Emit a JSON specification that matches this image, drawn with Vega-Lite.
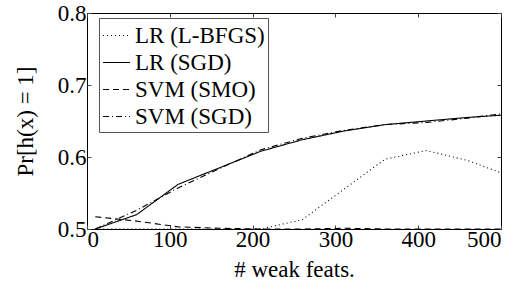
{
  "$schema": "https://vega.github.io/schema/vega-lite/v6.json",
  "autosize": {"type": "none"},
  "width": 414,
  "height": 216,
  "padding": {"left": 87, "top": 13, "right": 20, "bottom": 61},
  "background": "white",
  "config": {
    "view": {"stroke": "black", "strokeWidth": 1},
    "font": "Liberation Serif",
    "axis": {"grid": false, "domain": false, "tickColor": "#444", "tickSize": -4, "labelColor": "black", "labelFont": "Liberation Serif", "labelFontSize": 23, "titleFont": "Liberation Serif", "titleFontWeight": "normal", "titleColor": "black", "titleFontSize": 23},
    "legend": {"labelFont": "Liberation Serif"}
  },
  "data": {"values": [
    {"n": 10, "v": 0.5, "m": "LR (L-BFGS)"},
    {"n": 60, "v": 0.5, "m": "LR (L-BFGS)"},
    {"n": 110, "v": 0.5, "m": "LR (L-BFGS)"},
    {"n": 160, "v": 0.5, "m": "LR (L-BFGS)"},
    {"n": 210, "v": 0.5, "m": "LR (L-BFGS)"},
    {"n": 260, "v": 0.513, "m": "LR (L-BFGS)"},
    {"n": 310, "v": 0.555, "m": "LR (L-BFGS)"},
    {"n": 360, "v": 0.597, "m": "LR (L-BFGS)"},
    {"n": 410, "v": 0.609, "m": "LR (L-BFGS)"},
    {"n": 460, "v": 0.595, "m": "LR (L-BFGS)"},
    {"n": 500, "v": 0.578, "m": "LR (L-BFGS)"},
    {"n": 10, "v": 0.5, "m": "LR (SGD)"},
    {"n": 60, "v": 0.52, "m": "LR (SGD)"},
    {"n": 110, "v": 0.562, "m": "LR (SGD)"},
    {"n": 160, "v": 0.585, "m": "LR (SGD)"},
    {"n": 210, "v": 0.608, "m": "LR (SGD)"},
    {"n": 260, "v": 0.624, "m": "LR (SGD)"},
    {"n": 310, "v": 0.636, "m": "LR (SGD)"},
    {"n": 360, "v": 0.645, "m": "LR (SGD)"},
    {"n": 410, "v": 0.65, "m": "LR (SGD)"},
    {"n": 460, "v": 0.655, "m": "LR (SGD)"},
    {"n": 500, "v": 0.658, "m": "LR (SGD)"},
    {"n": 10, "v": 0.517, "m": "SVM (SMO)"},
    {"n": 60, "v": 0.511, "m": "SVM (SMO)"},
    {"n": 110, "v": 0.503, "m": "SVM (SMO)"},
    {"n": 160, "v": 0.501, "m": "SVM (SMO)"},
    {"n": 210, "v": 0.5, "m": "SVM (SMO)"},
    {"n": 260, "v": 0.5, "m": "SVM (SMO)"},
    {"n": 310, "v": 0.501, "m": "SVM (SMO)"},
    {"n": 360, "v": 0.5, "m": "SVM (SMO)"},
    {"n": 410, "v": 0.5, "m": "SVM (SMO)"},
    {"n": 460, "v": 0.5, "m": "SVM (SMO)"},
    {"n": 500, "v": 0.5, "m": "SVM (SMO)"},
    {"n": 10, "v": 0.5, "m": "SVM (SGD)"},
    {"n": 60, "v": 0.526, "m": "SVM (SGD)"},
    {"n": 110, "v": 0.557, "m": "SVM (SGD)"},
    {"n": 160, "v": 0.584, "m": "SVM (SGD)"},
    {"n": 210, "v": 0.61, "m": "SVM (SGD)"},
    {"n": 260, "v": 0.626, "m": "SVM (SGD)"},
    {"n": 310, "v": 0.637, "m": "SVM (SGD)"},
    {"n": 360, "v": 0.645, "m": "SVM (SGD)"},
    {"n": 410, "v": 0.648, "m": "SVM (SGD)"},
    {"n": 460, "v": 0.654, "m": "SVM (SGD)"},
    {"n": 500, "v": 0.66, "m": "SVM (SGD)"}
  ]},
  "resolve": {"axis": {"x": "independent", "y": "independent"}},
  "layer": [
    {
      "mark": {"type": "line", "color": "black", "strokeWidth": 1.1},
      "encoding": {
        "x": {"field": "n", "type": "quantitative", "scale": {"domain": [0, 500], "nice": false}, "axis": {"values": [0, 100, 200, 300, 400, 500], "title": "# weak feats.", "labelPadding": 3, "titlePadding": 7}},
        "y": {"field": "v", "type": "quantitative", "scale": {"domain": [0.5, 0.8], "nice": false, "zero": false}, "axis": {"values": [0.5, 0.6, 0.7, 0.8], "format": ".1f", "title": "Pr[h(x) = 1]", "labelPadding": 5, "titlePadding": 20}},
        "strokeDash": {"field": "m", "type": "nominal", "scale": {"domain": ["LR (L-BFGS)", "LR (SGD)", "SVM (SMO)", "SVM (SGD)"], "range": [[1, 3], [1, 0], [6, 4], [6, 3, 1, 3]]},
          "legend": {"title": null, "orient": "none", "legendX": 12, "legendY": 5, "symbolType": "stroke", "symbolSize": 729, "symbolStrokeColor": "black", "symbolStrokeWidth": 1.1, "labelFontSize": 23, "labelColor": "black", "rowPadding": -5, "padding": 3, "strokeColor": "#555", "fillColor": "white", "labelOffset": 4}},
        "detail": {"field": "m"}
      }
    },
    {
      "mark": {"type": "line", "opacity": 0},
      "encoding": {
        "x": {"field": "n", "type": "quantitative", "axis": {"orient": "top", "values": [0, 100, 200, 300, 400, 500], "labels": false, "title": null}},
        "y": {"field": "v", "type": "quantitative", "axis": {"orient": "right", "values": [0.5, 0.6, 0.7, 0.8], "labels": false, "title": null}}
      }
    }
  ]
}
